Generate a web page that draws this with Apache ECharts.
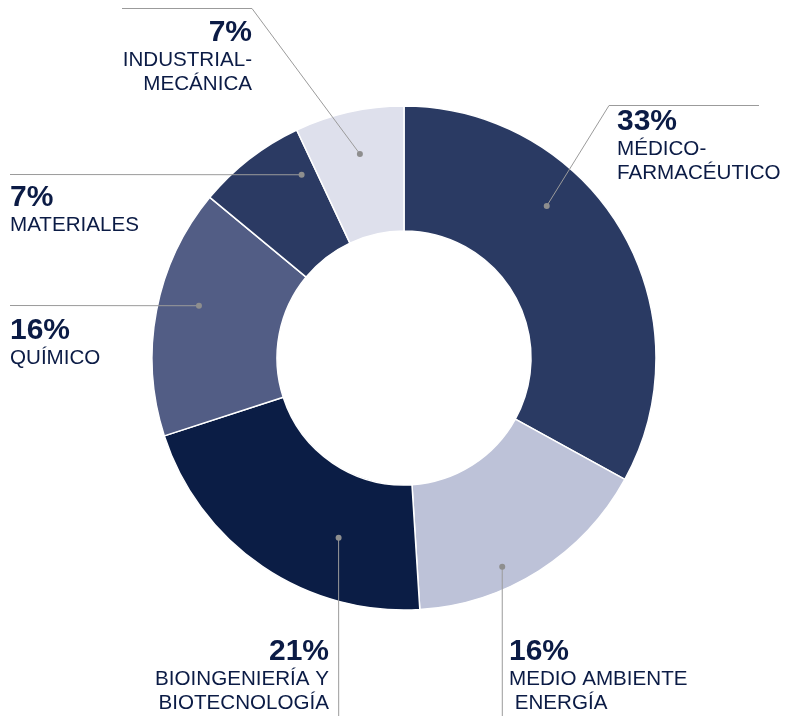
<!DOCTYPE html>
<html>
<head>
<meta charset="utf-8">
<script src="https://cdn.jsdelivr.net/npm/echarts@6/dist/echarts.min.js"></script>
<style>
html,body{margin:0;padding:0;background:#fff;}
#chart{width:788px;height:716px;}
</style>
</head>
<body>
<div id="chart"></div>
<script>
// ---- data ----
const categories = ['MÉDICO-\nFARMACÉUTICO', 'MEDIO AMBIENTE\n ENERGÍA', 'BIOINGENIERÍA Y\nBIOTECNOLOGÍA', 'QUÍMICO', 'MATERIALES', 'INDUSTRIAL-\nMECÁNICA'];
const values = [33, 16, 21, 16, 7, 7];
const sliceColors = ['#2a3a63', '#bdc2d8', '#0b1d45', '#525d85', '#2b3a63', '#dee0ec'];

// ---- layout (annotation placement) ----
const CENTER = [404, 358];
const RADIUS = [127, 252];
const TEXT_COLOR = '#0b1b45';
// dot: angle clockwise from 12 o'clock (deg), radius px; label anchor; leader line points after dot
const labelCfg = [
  { dot: [43.2, 208.5], x: 617, y: 106, align: 'left',  line: [[609, 105.5], [759, 105.5]] },
  { dot: [154.8, 230.7], x: 509, y: 636, align: 'left', line: [[502.3, 716]] },
  { dot: [200.0, 191.2], x: 329, y: 636, align: 'right', line: [[338.7, 716]] },
  { dot: [284.3, 211.6], x: 10, y: 315, align: 'left', line: [[10, 305.5]] },
  { dot: [330.8, 209.9], x: 10, y: 182, align: 'left', line: [[10, 174.5]] },
  { dot: [347.8, 208.7], x: 252, y: 17, align: 'right', line: [[252, 8.5], [122, 8.5]] }
];
function dotPos(i) {
  const a = labelCfg[i].dot[0] * Math.PI / 180, r = labelCfg[i].dot[1];
  return [CENTER[0] + r * Math.sin(a), CENTER[1] - r * Math.cos(a)];
}

const FONT = '"Liberation Sans", Arial, Helvetica, sans-serif';
const rich = {
  p:  { fontFamily: FONT, fontSize: 30, fontWeight: 'bold', lineHeight: 31, color: TEXT_COLOR, align: 'left' },
  n:  { fontFamily: FONT, fontSize: 20.6, lineHeight: 24, color: TEXT_COLOR, align: 'left' },
  pR: { fontFamily: FONT, fontSize: 30, fontWeight: 'bold', lineHeight: 31, color: TEXT_COLOR, align: 'right' },
  nR: { fontFamily: FONT, fontSize: 20.6, lineHeight: 24, color: TEXT_COLOR, align: 'right' }
};

const data = categories.map((name, i) => ({
  name: name,
  value: values[i],
  itemStyle: { color: sliceColors[i] },
  label: { align: labelCfg[i].align }
}));

const chart = echarts.init(document.getElementById('chart'), null, { renderer: 'canvas' });

const leaders = [];
labelCfg.forEach((c, i) => {
  const p = dotPos(i);
  leaders.push({ type: 'polyline', shape: { points: [p].concat(c.line) }, style: { stroke: '#9b9b9b', lineWidth: 1, fill: null }, z: 100, silent: true });
  leaders.push({ type: 'circle', shape: { cx: p[0], cy: p[1], r: 3 }, style: { fill: '#8e8e8e' }, z: 101, silent: true });
});

chart.setOption({
  backgroundColor: '#ffffff',
  animation: false,
  graphic: leaders,
  series: [{
    type: 'pie',
    center: CENTER,
    radius: RADIUS,
    startAngle: 90,
    clockwise: true,
    avoidLabelOverlap: false,
    itemStyle: { borderColor: '#ffffff', borderWidth: 1.5 },
    label: {
      show: true,
      position: 'outside',
      formatter: function (p) {
        const right = labelCfg[p.dataIndex].align === 'right';
        const pk = right ? 'pR' : 'p', nk = right ? 'nR' : 'n';
        const lines = p.name.split('\n').map(s => '{' + nk + '|' + s + '}');
        return '{' + pk + '|' + p.value + '%}\n' + lines.join('\n');
      },
      rich: rich,
      padding: 0
    },
    labelLine: { show: false },
    labelLayout: function (params) {
      const c = labelCfg[params.dataIndex];
      return { x: c.x, y: c.y, align: c.align, verticalAlign: 'top', hideOverlap: false };
    },
    emphasis: { disabled: true },
    data: data
  }]
});
</script>
</body>
</html>
